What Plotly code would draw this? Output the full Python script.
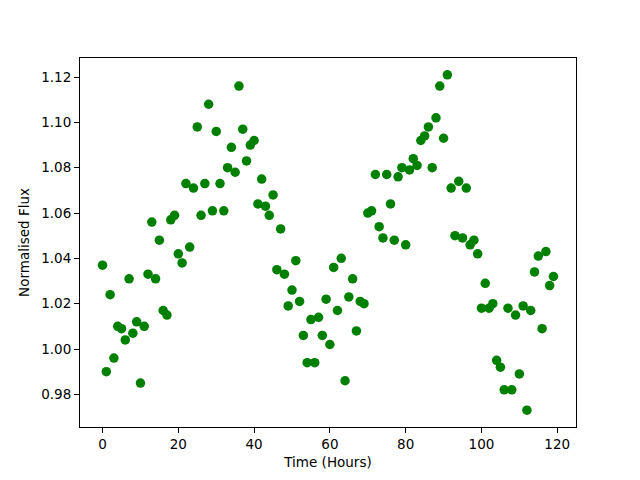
import plotly.graph_objects as go

time_hours = list(range(120))

normalised_flux = [
    1.037, 0.990, 1.024, 0.996, 1.010, 1.009, 1.004, 1.031, 1.007, 1.012,
    0.985, 1.010, 1.033, 1.056, 1.031, 1.048, 1.017, 1.015, 1.057, 1.059,
    1.042, 1.038, 1.073, 1.045, 1.071, 1.098, 1.059, 1.073, 1.108, 1.061,
    1.096, 1.073, 1.061, 1.080, 1.089, 1.078, 1.116, 1.097, 1.083, 1.090,
    1.092, 1.064, 1.075, 1.063, 1.059, 1.068, 1.035, 1.053, 1.033, 1.019,
    1.026, 1.039, 1.021, 1.006, 0.994, 1.013, 0.994, 1.014, 1.006, 1.022,
    1.002, 1.036, 1.017, 1.040, 0.986, 1.023, 1.031, 1.008, 1.021, 1.020,
    1.060, 1.061, 1.077, 1.054, 1.049, 1.077, 1.064, 1.048, 1.076, 1.080,
    1.046, 1.079, 1.084, 1.081, 1.092, 1.094, 1.098, 1.080, 1.102, 1.116,
    1.093, 1.121, 1.071, 1.050, 1.074, 1.049, 1.071, 1.046, 1.048, 1.042,
    1.018, 1.029, 1.018, 1.020, 0.995, 0.992, 0.982, 1.018, 0.982, 1.015,
    0.989, 1.019, 0.973, 1.017, 1.034, 1.041, 1.009, 1.043, 1.028, 1.032,
]

x_ticks = [0, 20, 40, 60, 80, 100, 120]
y_ticks = [0.98, 1.00, 1.02, 1.04, 1.06, 1.08, 1.10, 1.12]
y_tick_labels = ["0.98", "1.00", "1.02", "1.04", "1.06", "1.08", "1.10", "1.12"]

FONT = "DejaVu Sans"

fig = go.Figure(
    go.Scatter(
        x=time_hours,
        y=normalised_flux,
        mode="markers",
        marker=dict(color="#008000", size=9.5, line=dict(width=0)),
        showlegend=False,
    )
)

xmin, xmax = min(time_hours), max(time_hours)
ymin, ymax = min(normalised_flux), max(normalised_flux)
xpad = 0.05 * (xmax - xmin)
ypad = 0.05 * (ymax - ymin)

axis_common = dict(
    showgrid=False,
    zeroline=False,
    showline=True,
    linecolor="black",
    linewidth=1,
    mirror=True,
    ticks="outside",
    ticklen=5,
    tickwidth=1,
    tickcolor="black",
    tickfont=dict(family=FONT, size=13.5, color="black"),
)

# The page body adds an 8px offset; margins compensate so the axes box
# lands at (80, 58)-(576, 427) in the 640x480 window.
fig.update_layout(
    width=640,
    height=480,
    paper_bgcolor="white",
    plot_bgcolor="white",
    margin=dict(l=72, r=72, t=50, b=61, pad=0),
    font=dict(family=FONT, size=13.5, color="black"),
    xaxis=dict(
        range=[xmin - xpad, xmax + xpad],
        tickvals=x_ticks,
        title=dict(text="Time (Hours)", font=dict(family=FONT, size=13.5, color="black"), standoff=6),
        **axis_common,
    ),
    yaxis=dict(
        range=[ymin - ypad, ymax + ypad],
        tickvals=y_ticks,
        ticktext=y_tick_labels,
        title=dict(text="Normalised Flux", font=dict(family=FONT, size=13.5, color="black"), standoff=8),
        **axis_common,
    ),
)

fig.write_html("out.html")
